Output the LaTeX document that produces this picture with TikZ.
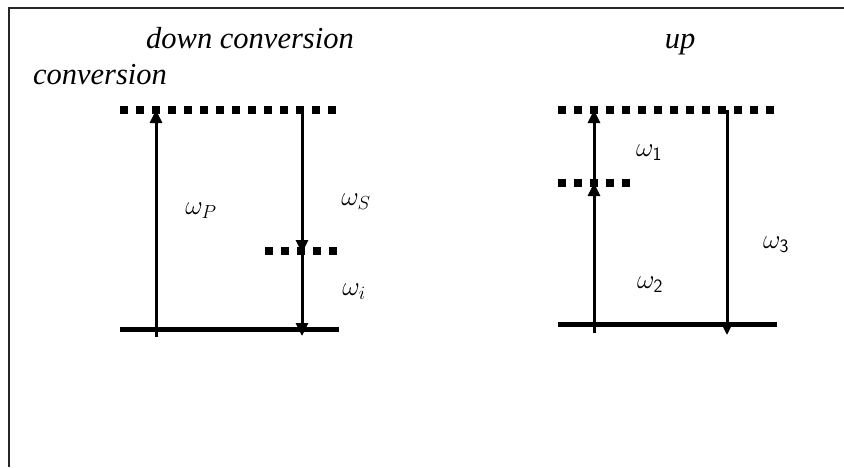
\RequirePackage{fix-cm}
\documentclass[tikz,border=0pt]{standalone}
\usepackage{fontspec}
\setmainfont{Liberation Serif}
\usetikzlibrary{arrows.meta}
\tikzset{
  frame/.style={line width=1.2pt,black!85},
  virt/.style={line width=7.5pt,dash pattern=on 7.5pt off 8.5pt},
  ground/.style={line width=5pt},
  trans/.style={line width=3pt,-{Triangle[length=13pt,width=12pt]}},
  title/.style={font=\fontsize{30.5}{34}\selectfont\itshape,inner sep=0pt,anchor=base},
  lab/.style={font=\fontsize{27}{30}\selectfont,inner sep=0pt},
}
\begin{document}
\begin{tikzpicture}[x=1pt,y=-1pt]
\useasboundingbox (0,0) rectangle (844,467);
% frame
\coordinate (fl) at (9,467);
\coordinate (ftl) at (9,8);
\coordinate (ftr) at (844,8);
\draw[frame] (fl) -- (ftl) -- (ftr);
% titles
\node[title] (tdown) at (250,48) {down conversion};
\node[title] (tconv) at (100,84) {conversion};
\node[title] (tup) at (680,48) {up};
% left diagram levels
\coordinate (Ltop1) at (120,110); \coordinate (Ltop2) at (339,110);
\coordinate (Lmid1) at (265,251); \coordinate (Lmid2) at (339,251);
\coordinate (Lg1) at (120,329); \coordinate (Lg2) at (339,329);
\draw[virt] (Ltop1) -- (Ltop2);
\draw[virt] (Lmid1) -- (Lmid2);
\draw[ground] (Lg1) -- (Lg2);
% left transitions
\coordinate (Pb) at (156,337); \coordinate (Pt) at (156,110);
\draw[trans] (Pb) -- (Pt);
\coordinate (St) at (302,110); \coordinate (Sb) at (302,253);
\draw[trans] (St) -- (Sb);
\coordinate (It) at (302,251); \coordinate (Ib) at (302,336);
\draw[trans] (It) -- (Ib);
\node[lab] (wP) at (201,211) {$\omega_P$};
\node[lab] (wS) at (356,202) {$\omega_S$};
\node[lab] (wi) at (354,292) {$\omega_i$};
% right diagram levels
\coordinate (Rtop1) at (558,110); \coordinate (Rtop2) at (776,110);
\coordinate (Rmid1) at (558,183); \coordinate (Rmid2) at (632,183);
\coordinate (Rg1) at (558,324); \coordinate (Rg2) at (777,324);
\draw[virt] (Rtop1) -- (Rtop2);
\draw[virt] (Rmid1) -- (Rmid2);
\draw[ground] (Rg1) -- (Rg2);
% right transitions
\coordinate (Ab) at (594,333); \coordinate (Am) at (594,183); \coordinate (At) at (594,110);
\draw[trans] (Ab) -- (Am);
\draw[trans] (Am) -- (At);
\coordinate (Ct) at (727,110); \coordinate (Cb) at (727,335);
\draw[trans] (Ct) -- (Cb);
\node[lab] (w1) at (649,153) {$\omega_{\mathsf{1}}$};
\node[lab] (w2) at (650,285) {$\omega_{\mathsf{2}}$};
\node[lab] (w3) at (776,245) {$\omega_{\mathsf{3}}$};
\end{tikzpicture}
\end{document}
